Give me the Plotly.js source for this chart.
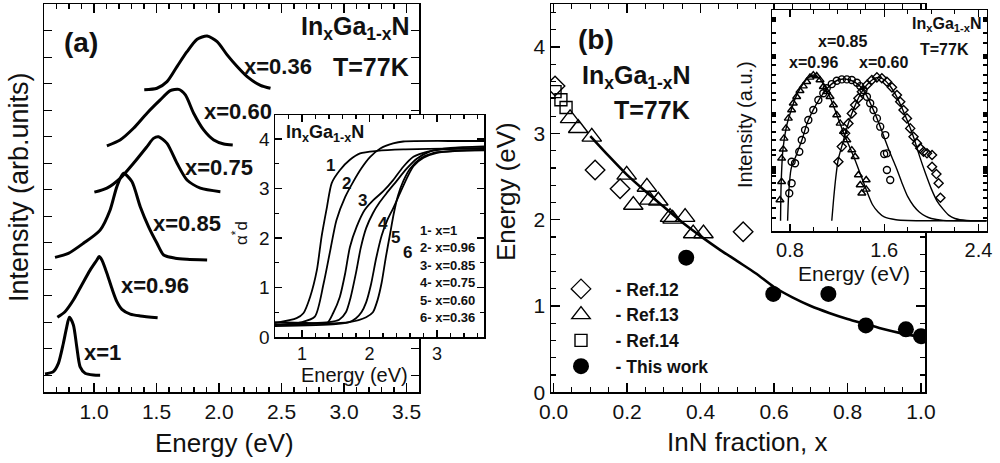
<!DOCTYPE html>
<html><head><meta charset="utf-8">
<script src="https://cdn.plot.ly/plotly-3.0.1.min.js"></script>
<style>html,body{margin:0;padding:0;background:#fff}#g{width:1000px;height:463px}</style>
</head><body><div id="g"></div>
<script>
// ---------- Panel (a): PL spectra (offset, arb. units) ----------
const a_x100_E = [0.608,0.675,0.715,0.755,0.782,0.803,0.835,0.862,0.889,0.929,0.995,1.049];
const a_x100_I = [0.68,0.77,1.08,1.84,2.46,2.82,2.53,1.71,0.95,0.71,0.64,0.63];
const a_x096_E = [0.707,0.768,0.835,0.902,0.969,1.023,1.041,1.063,1.103,1.143,1.183,1.223,1.290,1.370,1.509];
const a_x096_I = [2.82,3.03,3.47,4.04,4.60,4.98,5.11,4.98,4.48,3.91,3.41,3.12,2.94,2.87,2.80];
const a_x085_E = [0.688,0.795,0.915,1.049,1.129,1.183,1.236,1.303,1.370,1.436,1.504,1.557,1.650,1.744,1.905];
const a_x085_I = [5.08,5.23,5.61,6.11,6.87,7.75,8.25,7.94,6.99,6.24,5.61,5.17,5.05,5.01,4.98];
const a_x075_E = [1.003,1.103,1.209,1.316,1.424,1.476,1.517,1.584,1.664,1.744,1.851,2.011];
const a_x075_I = [7.54,7.69,8.06,8.63,9.26,9.57,9.63,9.38,8.63,8.00,7.69,7.56];
const a_x060_E = [1.103,1.209,1.316,1.424,1.530,1.610,1.677,1.731,1.797,1.877,1.958,2.038,2.110];
const a_x060_I = [9.29,9.51,9.95,10.52,11.02,11.37,11.42,11.21,10.52,9.89,9.51,9.36,9.32];
const a_x036_E = [1.402,1.504,1.584,1.664,1.744,1.825,1.905,1.985,2.065,2.145,2.225,2.332,2.412];
const a_x036_I = [11.40,11.46,11.71,12.28,12.84,13.31,13.43,13.22,12.72,12.28,11.90,11.57,11.46];
const a_labels = ["x=0.36","x=0.60","x=0.75","x=0.85","x=0.96","x=1"];

// ---------- Inset (a): absorption alpha*d ----------
const ia_c1_E = [0.6,0.92,1.02,1.12,1.22,1.29,1.37,1.44,1.56,1.71,1.86,2.11,2.5,3.34,3.7];
const ia_c1_V = [0.28,0.38,0.48,0.81,1.35,2.03,2.63,3.11,3.37,3.58,3.71,3.76,3.79,3.81,3.82];
const ia_c2_E = [0.6,1.0,1.19,1.32,1.42,1.51,1.64,1.76,1.88,2.01,2.16,2.35,2.5,3.34,3.7];
const ia_c2_V = [0.24,0.30,0.41,1.08,1.76,2.36,2.83,3.14,3.41,3.64,3.81,3.91,3.95,3.96,3.96];
const ia_c3_E = [0.6,1.2,1.37,1.46,1.56,1.64,1.71,1.81,1.93,2.06,2.2,2.35,2.5,2.65,2.85,3.09,3.34,3.7];
const ia_c3_V = [0.30,0.28,0.28,0.48,0.81,1.29,1.82,2.23,2.57,2.77,2.94,3.17,3.44,3.64,3.74,3.79,3.80,3.80];
const ia_c4_E = [0.6,1.4,1.55,1.65,1.72,1.8,1.87,1.95,2.05,2.15,2.25,2.4,2.55,2.7,2.9,3.2,3.7];
const ia_c4_V = [0.25,0.30,0.35,0.50,0.80,1.30,1.80,2.20,2.50,2.72,2.90,3.15,3.40,3.60,3.75,3.82,3.85];
const ia_c5_E = [0.6,1.5,1.7,1.8,1.88,1.95,2.02,2.1,2.18,2.26,2.35,2.45,2.55,2.65,2.8,3.0,3.3,3.7];
const ia_c5_V = [0.22,0.26,0.30,0.38,0.50,0.70,1.05,1.60,2.05,2.35,2.60,2.90,3.20,3.45,3.62,3.72,3.76,3.78];
const ia_c6_E = [0.6,1.7,1.95,2.05,2.12,2.18,2.24,2.3,2.36,2.42,2.5,2.6,2.75,2.95,3.3,3.7];
const ia_c6_V = [0.25,0.30,0.40,0.50,0.75,1.10,1.60,2.05,2.50,2.85,3.15,3.40,3.60,3.72,3.76,3.77];
const ia_legend = ["1- x=1","2- x=0.96","3- x=0.85","4- x=0.75","5- x=0.60","6- x=0.36"];

// ---------- Panel (b): band gap vs InN fraction ----------
const b_ref12_x = [0.004,0.113,0.181,0.516];
const b_ref12_E = [3.55,2.575,2.36,1.86];
const b_ref13_x = [0.045,0.067,0.104,0.199,0.254,0.217,0.261,0.285,0.317,0.324,0.358,0.380,0.408];
const b_ref13_E = [3.175,3.06,2.96,2.52,2.38,2.17,2.23,2.22,2.03,2.01,2.03,1.84,1.84];
const b_ref14_x = [0.004,0.020,0.034];
const b_ref14_E = [3.485,3.39,3.30];
const b_this_x = [0.361,0.598,0.748,0.850,0.959,1.0];
const b_this_E = [1.56,1.14,1.14,0.775,0.73,0.65];
const b_fit_x = [0.1,0.15,0.2,0.25,0.3,0.35,0.4,0.45,0.5,0.55,0.6,0.65,0.7,0.75,0.8,0.85,0.9,0.95,1.0];
const b_fit_E = [2.97,2.74,2.52,2.33,2.15,1.97,1.81,1.66,1.52,1.38,1.22,1.10,1.00,0.92,0.85,0.79,0.73,0.68,0.64];
const b_names = ["- Ref.12","- Ref.13","- Ref.14","- This work"];

// ---------- Inset (b): PL spectra with fits ----------
const ib_096_E = [0.715,0.729,0.729,0.743,0.749,0.766,0.786,0.814,0.828,0.857,0.885,0.913,0.942,0.970,0.998,1.027,1.055,1.083,1.112,1.140,1.169,1.197,1.226,1.254,1.283,1.325,1.353,1.381,1.396,1.410,1.447,1.447];
const ib_096_I = [0.199,0.316,0.466,0.524,0.594,0.658,0.722,0.776,0.819,0.861,0.899,0.929,0.957,0.985,1.0,0.994,0.968,0.925,0.893,0.861,0.808,0.744,0.690,0.637,0.583,0.519,0.476,0.359,0.295,0.242,0.327,0.267];
const ib_085_E = [0.794,0.814,0.814,0.843,0.879,0.9,0.928,0.956,0.998,1.041,1.083,1.112,1.155,1.197,1.240,1.283,1.325,1.368,1.396,1.424,1.453,1.481,1.509,1.538,1.566,1.609,1.6,1.623,1.623,1.651];
const ib_085_I = [0.242,0.306,0.444,0.434,0.508,0.583,0.647,0.712,0.776,0.840,0.883,0.915,0.942,0.963,0.972,0.972,0.968,0.951,0.929,0.904,0.861,0.819,0.776,0.722,0.669,0.615,0.494,0.498,0.391,0.327];
const ib_060_E = [1.211,1.240,1.268,1.296,1.325,1.353,1.381,1.410,1.453,1.495,1.538,1.580,1.623,1.666,1.708,1.736,1.764,1.793,1.821,1.849,1.878,1.906,1.934,1.963,2.006,2.006,2.043,2.062,2.077];
const ib_060_I = [0.444,0.541,0.626,0.690,0.754,0.808,0.851,0.893,0.936,0.968,0.985,0.979,0.957,0.921,0.872,0.829,0.776,0.722,0.658,0.604,0.562,0.530,0.508,0.498,0.487,0.412,0.365,0.306,0.213];
const ib_fit096_E = [0.72,0.725,0.74,0.77,0.8,0.85,0.9,0.95,1.0,1.05,1.1,1.15,1.2,1.25,1.3,1.35,1.4,1.45,1.5,1.55,1.6,1.7,1.8,2.47];
const ib_fit096_I = [0.066,0.30,0.52,0.67,0.75,0.86,0.93,0.98,1.0,0.98,0.92,0.84,0.74,0.64,0.55,0.46,0.36,0.26,0.17,0.12,0.09,0.072,0.067,0.066];
const ib_fit085_E = [0.78,0.79,0.81,0.85,0.9,0.95,1.0,1.05,1.1,1.15,1.2,1.25,1.3,1.35,1.4,1.45,1.5,1.55,1.6,1.65,1.7,1.75,1.8,1.85,1.9,1.95,2.0,2.1,2.47];
const ib_fit085_I = [0.066,0.25,0.40,0.48,0.58,0.70,0.78,0.845,0.90,0.94,0.965,0.975,0.97,0.955,0.925,0.87,0.79,0.70,0.60,0.50,0.41,0.31,0.22,0.16,0.12,0.095,0.08,0.068,0.066];
const ib_fit060_E = [1.155,1.17,1.19,1.21,1.25,1.3,1.35,1.4,1.45,1.5,1.55,1.6,1.65,1.7,1.75,1.8,1.85,1.9,1.95,2.0,2.05,2.1,2.15,2.2,2.3,2.47];
const ib_fit060_I = [0.066,0.20,0.35,0.46,0.57,0.70,0.80,0.88,0.935,0.97,0.985,0.97,0.93,0.87,0.79,0.70,0.60,0.48,0.37,0.27,0.19,0.14,0.10,0.08,0.067,0.066];
const ib_labels = ["x=0.85","x=0.96","x=0.60"];
const ib_ytickvals = [1.365,1.356,1.346,1.269,1.205,1.128,1.119,1.109,1.064,1.0,0.949,0.885,0.840,0.756,0.747,0.737,0.699,0.635,0.583,0.519,0.487,0.410,0.397,0.385,0.372,0.353,0.308,0.263,0.212,0.147,0.083];

const FONT = 'Liberation Sans, Arial, Helvetica, sans-serif';
const K = '#000';
const NB = '\u00a0\u00a0\u00a0';

function line(x,y,xa,ya,w){return {x:x,y:y,xaxis:xa,yaxis:ya,mode:'lines',line:{color:K,width:w,shape:'spline',smoothing:0.7},showlegend:false,hoverinfo:'skip'};}
function mk(x,y,xa,ya,sym,size,name,show,fill){return {x:x,y:y,xaxis:xa,yaxis:ya,mode:'markers',name:name?('<b>'+NB+name+'</b>'):'',showlegend:!!show,
  marker:{symbol:sym,size:size,color:K,line:{color:K,width:fill?0:1.4}},hoverinfo:'skip'};}

const traces = [
  line(a_x100_E,a_x100_I,'x','y',3), line(a_x096_E,a_x096_I,'x','y',3), line(a_x085_E,a_x085_I,'x','y',3),
  line(a_x075_E,a_x075_I,'x','y',3), line(a_x060_E,a_x060_I,'x','y',3), line(a_x036_E,a_x036_I,'x','y',3),
  line(ia_c1_E,ia_c1_V,'x2','y2',1.8), line(ia_c2_E,ia_c2_V,'x2','y2',1.8), line(ia_c3_E,ia_c3_V,'x2','y2',1.8),
  line(ia_c4_E,ia_c4_V,'x2','y2',1.8), line(ia_c5_E,ia_c5_V,'x2','y2',1.8), line(ia_c6_E,ia_c6_V,'x2','y2',1.8),
  line(b_fit_x,b_fit_E,'x3','y3',2.6),
  mk(b_ref12_x,b_ref12_E,'x3','y3','diamond-open',15,b_names[0],true,false),
  mk(b_ref13_x,b_ref13_E,'x3','y3','triangle-up-open',17,b_names[1],true,false),
  mk(b_ref14_x,b_ref14_E,'x3','y3','square-open',12,b_names[2],true,false),
  mk(b_this_x,b_this_E,'x3','y3','circle',16,b_names[3],true,true),
  line(ib_fit096_E,ib_fit096_I,'x4','y4',1.4), line(ib_fit085_E,ib_fit085_I,'x4','y4',1.4), line(ib_fit060_E,ib_fit060_I,'x4','y4',1.4),
  mk(ib_096_E,ib_096_I,'x4','y4','triangle-up-open',7,'',false,false),
  mk(ib_085_E,ib_085_I,'x4','y4','circle-open',7,'',false,false),
  mk(ib_060_E,ib_060_I,'x4','y4','diamond-open',7,'',false,false)
];

function ax(o){
  return Object.assign({showline:true,linecolor:K,linewidth:1.5,mirror:'ticks',ticks:'inside',tickcolor:K,tickwidth:1.3,
    showgrid:false,zeroline:false,tickfont:{family:FONT,size:21,color:'#111'},fixedrange:true},o);
}
function minor(d,len){return {dtick:d,ticklen:len,tickwidth:1.1,tickcolor:K,ticks:'inside',showgrid:false};}
function px(x){return x/1000;} function py(y){return 1-y/463;}
function ann(t,x,y,size,o){return Object.assign({text:t,x:px(x),y:py(y),xref:'paper',yref:'paper',showarrow:false,
  xanchor:'center',yanchor:'middle',font:{family:FONT,size:size,color:'#111'}},o||{});}

const annotations = [
  ann('<b>(a)</b>',81,43,28),
  ann('<b>In<sub>x</sub>Ga<sub>1-x</sub>N</b>',412,28,25,{xanchor:'right'}),
  ann('<b>T=77K</b>',411,67,25,{xanchor:'right'}),
  ann('<b>'+a_labels[0]+'</b>',277.5,67,22), ann('<b>'+a_labels[1]+'</b>',238,112,22),
  ann('<b>'+a_labels[2]+'</b>',219,167,22), ann('<b>'+a_labels[3]+'</b>',187,223,22),
  ann('<b>'+a_labels[4]+'</b>',155,285,22), ann('<b>'+a_labels[5]+'</b>',102,352,22),
  ann('Intensity (arb.units)',19,187,27,{textangle:-90}),
  ann('Energy (eV)',224,443,26),
  ann('<b>In<sub>x</sub>Ga<sub>1-x</sub>N</b>',284,133,18,{xanchor:'left'}),
  ann('<b>1</b>',330,165,17), ann('<b>2</b>',346,183,17), ann('<b>3</b>',362,200,17),
  ann('<b>4</b>',383,223,17), ann('<b>5</b>',395,237,17), ann('<b>6</b>',407,252,17),
  ann('α<sup>*</sup>d',240,233,17,{textangle:-90}),
  ann('Energy (eV)',354,375,20),
  ann('<b>(b)</b>',596,40,28),
  ann('<b>In<sub>x</sub>Ga<sub>1-x</sub>N</b>',636,77,25),
  ann('<b>T=77K</b>',652,110,25),
  ann('Energy (eV)',506,192,26,{textangle:-90}),
  ann('InN fraction, x',747,442,26),
  ann('<b>In<sub>x</sub>Ga<sub>1-x</sub>N</b>',984,25,16,{xanchor:'right'}),
  ann('<b>T=77K</b>',944,50,16),
  ann('<b>'+ib_labels[0]+'</b>',842,42,16), ann('<b>'+ib_labels[1]+'</b>',813,62,16), ann('<b>'+ib_labels[2]+'</b>',883,62,16),
  ann('Intensity (a.u.)',745,125,20,{textangle:-90}),
  ann('Energy (eV)',854,273,21)
];
const iaY = [230,247.5,265,282.5,300,317.5];
ia_legend.forEach((t,i)=>annotations.push(ann('<b>'+t+'</b>',418,iaY[i],13,{xanchor:'left'})));

const layout = {
  width:1000,height:463,margin:{l:0,r:0,t:0,b:0},paper_bgcolor:'#fff',plot_bgcolor:'#fff',
  font:{family:FONT,color:'#111'},
  xaxis:ax({domain:[px(44),px(419)],anchor:'y',range:[0.6,3.6],tick0:0,dtick:0.5,tickformat:'.1f',ticklen:9,minor:minor(0.1,5)}),
  yaxis:ax({domain:[py(392),py(4)],anchor:'x',range:[0,14.64],tick0:0.634,dtick:1,ticklen:8,showticklabels:false}),
  xaxis2:ax({domain:[px(275),px(484.3)],anchor:'y2',range:[0.6,3.7],tick0:0,dtick:1,ticklen:7,minor:minor(0.2,4),tickfont:{family:FONT,size:18,color:'#111'}}),
  yaxis2:ax({domain:[py(337),py(115)],anchor:'x2',range:[0,4.485],tick0:0,dtick:1,ticklen:7,minor:minor(0.5,4),tickfont:{family:FONT,size:19,color:'#111'}}),
  xaxis3:ax({domain:[px(551),px(925)],anchor:'y3',range:[-0.007,1.011],tick0:0,dtick:0.2,tickformat:'.1f',ticklen:9,minor:minor(0.05,5)}),
  yaxis3:ax({domain:[py(392.3),py(4)],anchor:'x3',range:[0,4.5],tick0:0,dtick:1,ticklen:9,minor:minor(0.2,5)}),
  xaxis4:ax({domain:[px(772.3),px(986.7)],anchor:'y4',range:[0.65,2.47],tick0:0,dtick:0.8,tickformat:'.1f',ticklen:7,minor:minor(0.2,4),tickfont:{family:FONT,size:20,color:'#111'}}),
  yaxis4:ax({domain:[py(231),py(10)],anchor:'x4',range:[0,1.417],tickmode:'array',tickvals:ib_ytickvals,ticklen:4,showticklabels:false,linewidth:1.3}),
  showlegend:true,
  legend:{x:px(561),y:py(271),xanchor:'left',yanchor:'top',bgcolor:'rgba(0,0,0,0)',borderwidth:0,
    font:{family:FONT,size:17.5,color:'#111'},tracegroupgap:0,itemwidth:30},
  annotations:annotations
};
Plotly.newPlot('g',traces,layout,{staticPlot:true,displayModeBar:false});
</script></body></html>
